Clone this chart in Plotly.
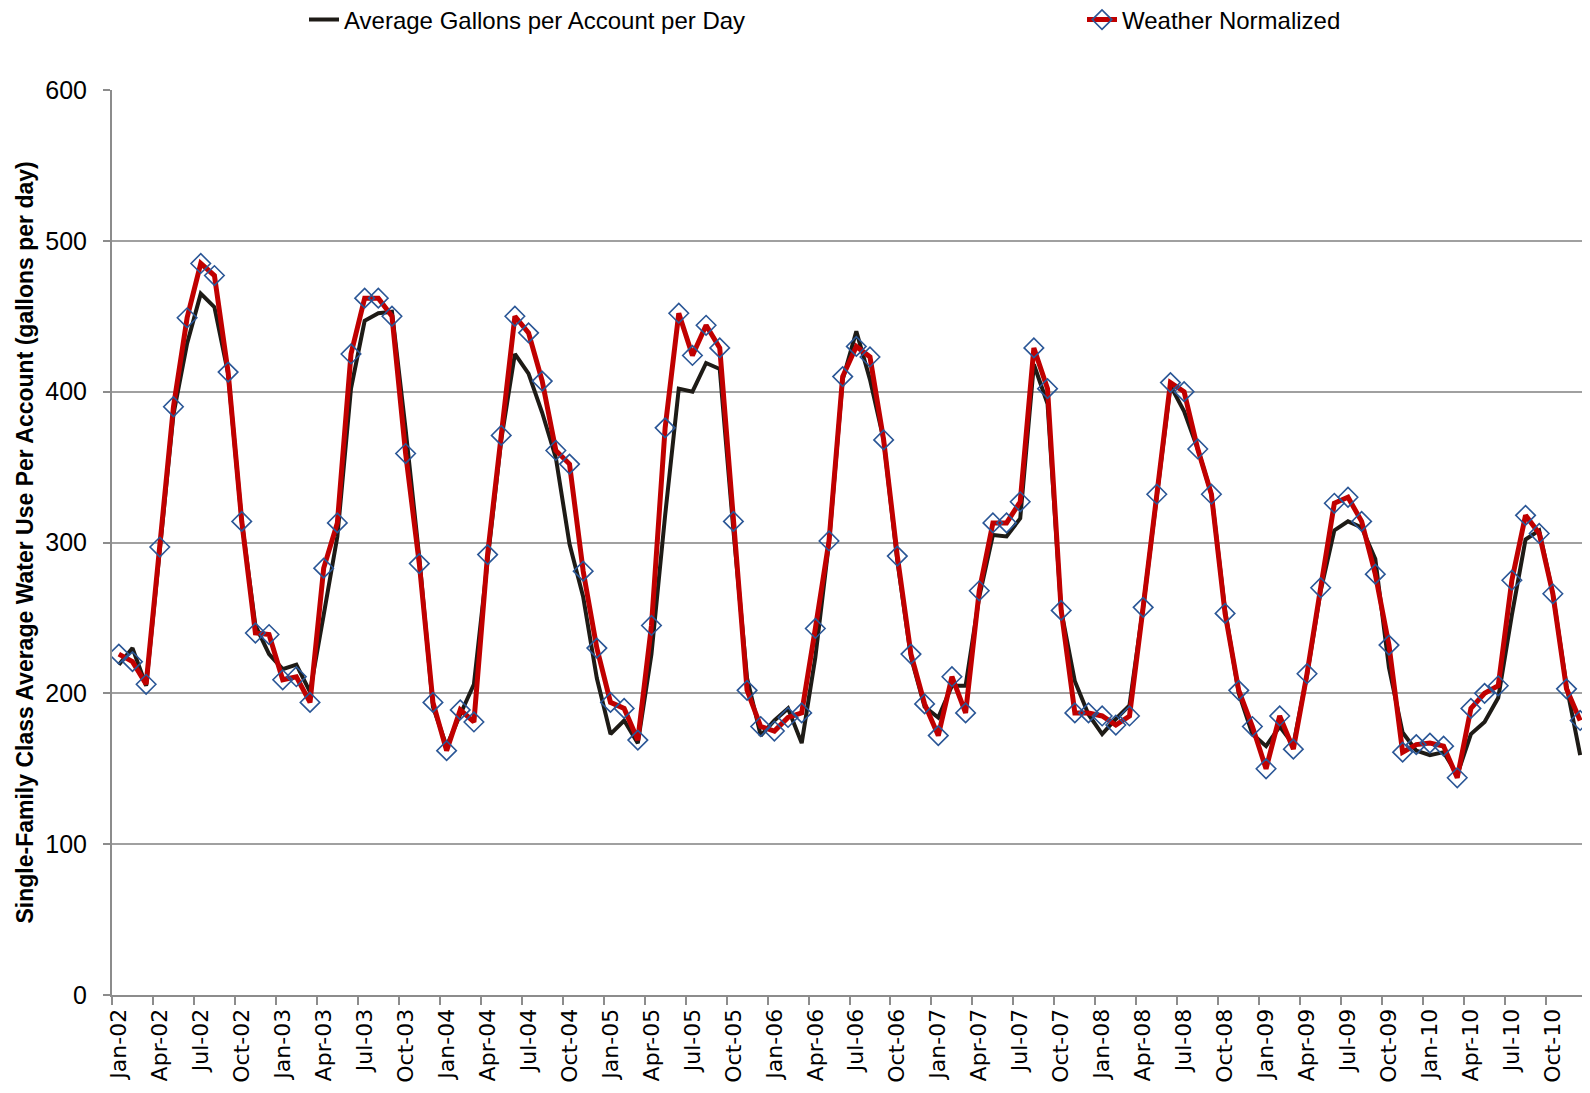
import plotly.graph_objects as go

months = [f"{m}-{y:02d}" for y in range(2, 11) for m in
          ["Jan", "Feb", "Mar", "Apr", "May", "Jun", "Jul", "Aug", "Sep", "Oct", "Nov", "Dec"]]

avg_gallons = [219, 230, 205, 294, 385, 432, 465, 456, 412, 314, 245, 226,
               216, 219, 201, 252, 304, 402, 447, 452, 453, 375, 290, 191,
               165, 186, 206, 288, 368, 425, 412, 386, 356, 299, 264, 210,
               173, 182, 167, 226, 318, 402, 400, 419, 415, 308, 210, 172,
               182, 190, 167, 224, 300, 408, 440, 408, 368, 288, 224, 191,
               184, 205, 205, 264, 305, 304, 316, 418, 392, 255, 208, 186,
               173, 183, 192, 257, 332, 404, 387, 362, 332, 255, 200, 173,
               165, 178, 166, 212, 268, 308, 314, 310, 289, 217, 174, 162,
               159, 161, 146, 173, 181, 197, 252, 302, 308, 266, 205, 159]

weather_norm = [226, 221, 206, 297, 390, 449, 485, 477, 413, 314, 240, 239,
                209, 211, 194, 283, 313, 425, 462, 462, 450, 359, 286, 194,
                162, 189, 181, 292, 371, 450, 439, 407, 361, 352, 281, 230,
                194, 190, 169, 245, 376, 452, 424, 444, 429, 314, 202, 178,
                175, 184, 187, 243, 301, 410, 430, 423, 368, 291, 226, 193,
                172, 211, 187, 268, 313, 313, 327, 429, 402, 255, 187, 187,
                185, 179, 185, 257, 332, 406, 400, 362, 332, 253, 202, 178,
                150, 185, 163, 213, 270, 326, 330, 314, 279, 232, 161, 166,
                167, 165, 144, 190, 200, 205, 275, 318, 306, 266, 203, 182]

y_ticks = [0, 100, 200, 300, 400, 500, 600]
y_title = "Single-Family Class Average Water Use Per Account (gallons per day)"

idx = list(range(len(months)))
label_idx = idx[::3]
label_txt = months[::3]

W, H = 1582, 1085

fig = go.Figure()
fig.add_trace(go.Scatter(
    x=idx, y=avg_gallons, mode="lines", name="Average Gallons per Account per Day",
    line=dict(color="#1E1B16", width=4), legend="legend", showlegend=True))
fig.add_trace(go.Scatter(
    x=idx, y=weather_norm, mode="lines+markers", name="Weather Normalized",
    line=dict(color="#C00000", width=5),
    marker=dict(symbol="diamond-open", size=15, color="#2A5696", line=dict(width=1.6, color="#2A5696")),
    legend="legend2", showlegend=True))

font_main = "Liberation Sans, Arial, sans-serif"

fig.update_layout(
    width=W, height=H,
    margin=dict(l=104, r=3, t=82, b=98, autoexpand=False),
    showlegend=True,
    paper_bgcolor="white", plot_bgcolor="white",
    font=dict(family=font_main, color="black"),
    legend=dict(orientation="h", xref="container", yref="container",
                x=296 / W, y=1 - 12 / H, xanchor="left", yanchor="middle",
                font=dict(size=24, family=font_main), bgcolor="rgba(0,0,0,0)"),
    legend2=dict(orientation="h", xref="container", yref="container",
                 x=1074 / W, y=1 - 12 / H, xanchor="left", yanchor="middle",
                 font=dict(size=24, family=font_main), bgcolor="rgba(0,0,0,0)"),
    xaxis=dict(
        automargin=False,
        range=[-0.5, len(months) - 0.5],
        tickmode="array", tickvals=label_idx, ticktext=label_txt,
        tickangle=-90, tickfont=dict(family="DejaVu Sans", size=22, color="black"),
        ticks="outside", ticklen=3, tickcolor="rgba(0,0,0,0)",
        showgrid=False, zeroline=False,
        showline=True, linecolor="#8C8C8C", linewidth=2,
        minor=dict(tickmode="array", tickvals=[v - 0.5 for v in label_idx] + [len(months) - 0.5],
                   ticks="outside", ticklen=8, tickcolor="#8C8C8C", tickwidth=1.5, showgrid=False),
    ),
    yaxis=dict(
        automargin=False,
        range=[0, 600], tickmode="array", tickvals=y_ticks,
        tickfont=dict(family=font_main, size=25, color="black"),
        ticks="outside", ticklen=7, tickcolor="#8C8C8C", tickwidth=1.5,
        ticklabelstandoff=11,
        showgrid=True, gridcolor="#A0A0A0", gridwidth=1.5,
        zeroline=False, showline=True, linecolor="#8C8C8C", linewidth=2,
    ),
    annotations=[dict(
        text=f"<b>{y_title}</b>", xref="paper", yref="paper",
        x=(16 - 104) / (W - 107), y=0.5, xanchor="center", yanchor="middle",
        textangle=-90, showarrow=False, font=dict(family=font_main, size=23, color="black"))],
)

fig.write_html("out.html")
